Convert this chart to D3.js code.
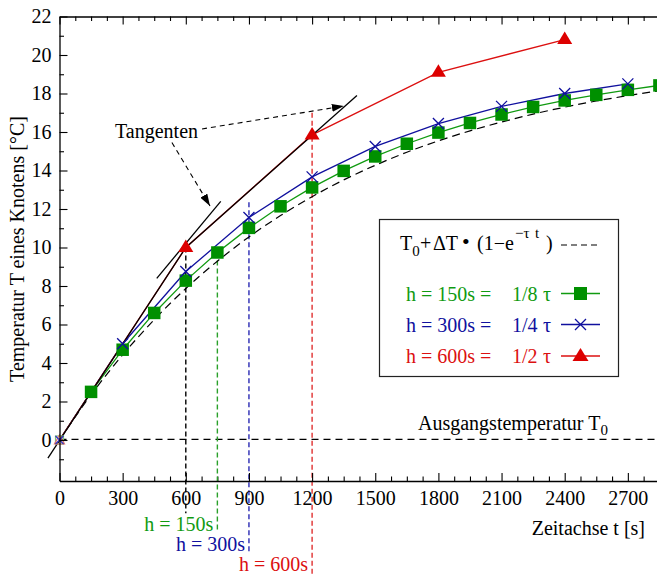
<!DOCTYPE html>
<html><head><meta charset="utf-8">
<script src="https://cdn.jsdelivr.net/npm/d3@7"></script>
<style>
body{margin:0;background:#fff}
svg{display:block}
text{font-family:"Liberation Serif","Times New Roman",serif}
</style>
</head><body>
<svg id="c" width="657" height="574"></svg>
<script>
// ---- data ----
const xTickValues = [0,300,600,900,1200,1500,1800,2100,2400,2700];
const xTickLabels = ["0","300","600","900","1200","1500","1800","2100","2400","2700"];
const yTickValues = [0,2,4,6,8,10,12,14,16,18,20,22];
const yTickLabels = ["0","2","4","6","8","10","12","14","16","18","20","22"];

const exactT = [0,150,300,450,600,750,900,1050,1200,1350,1500,1650,1800,1950,2100,2250,2400,2550,2700,2850];
const exactV = [0,2.35,4.42,6.25,7.87,9.29,10.55,11.66,12.64,13.51,14.27,14.95,15.54,16.06,16.52,16.93,17.29,17.61,17.89,18.14];

const greenT = [0,150,300,450,600,750,900,1050,1200,1350,1500,1650,1800,1950,2100,2250,2400,2550,2700,2850];
const greenV = [0,2.5,4.69,6.6,8.28,9.74,11.02,12.14,13.12,13.98,14.73,15.39,15.97,16.47,16.91,17.3,17.64,17.93,18.19,18.42];

const blueT = [0,300,600,900,1200,1500,1800,2100,2400,2700];
const blueV = [0,5.0,8.75,11.56,13.67,15.25,16.44,17.33,18.0,18.5];

const redT = [0,600,1200,1800,2400];
const redV = [0,10,15.85,19.1,20.8];

const tangentA = [[-55,-0.94],[600,10]];
const tangentB = [[600,10],[1413,17.9]];
const tangentC = [[462,8.4],[766,12.4]];

const seriesNames = ["h = 150s =","h = 300s =","h = 600s ="];
const seriesFrac = ["1/8","1/4","1/2"];
const colGreen = "#109a10", colBlue = "#10109e", colRed = "#dc1010";

// ---- scales ----
const svg = d3.select("#c");
svg.append("rect").attr("width",657).attr("height",574).attr("fill","#fff");
const x = d3.scaleLinear().domain([0,3000]).range([59.5,691]);
const y = d3.scaleLinear().domain([-2.13,22]).range([481,16.5]);

// ---- axes ----
function styleAxis(g){
  g.select(".domain").attr("stroke","#000").attr("stroke-width",1.3);
  g.selectAll(".tick line").attr("stroke","#000").attr("stroke-width",1.1);
  g.selectAll("text").attr("font-size",20).attr("fill","#000").attr("font-family",'"Liberation Serif",serif');
}
const xMinor = d3.range(0,3000,75).filter(v=>v%300!==0);
const yMinor = d3.range(-1,22,2);

svg.append("g").attr("transform","translate(0,481)")
  .call(d3.axisBottom(x).tickValues(xMinor).tickSize(-4.5).tickFormat("")).call(styleAxis)
  .select(".domain").remove();
svg.append("g").attr("transform","translate(0,16.5)")
  .call(d3.axisTop(x).tickValues(xMinor).tickSize(-4.5).tickFormat("")).call(styleAxis)
  .select(".domain").remove();
svg.append("g").attr("transform","translate(0,16.5)")
  .call(d3.axisTop(x).tickValues(xTickValues).tickSize(-8).tickSizeOuter(0).tickFormat("")).call(styleAxis);
svg.append("g").attr("transform","translate(59.5,0)")
  .call(d3.axisLeft(y).tickValues(yMinor).tickSize(-4.5).tickFormat("")).call(styleAxis)
  .select(".domain").remove();

// ---- reference lines ----
svg.append("line").attr("x1",x(0)).attr("x2",657).attr("y1",y(0.03)).attr("y2",y(0.03))
  .attr("stroke","#000").attr("stroke-width",1.1).attr("stroke-dasharray","7,5");

const vlines = [
  {t:600, a:10, b:-3.8, c:"#000"},
  {t:750, a:9.74, b:-4.78, c:"#2aa02a"},
  {t:900, a:12.35, b:-5.82, c:"#2a2ab4"},
  {t:1200, a:17.0, b:-7.0, c:"#e03030"}
];
vlines.forEach(v=>{
  svg.append("line").attr("x1",x(v.t)).attr("x2",x(v.t)).attr("y1",y(v.a)).attr("y2",y(v.b))
    .attr("stroke",v.c).attr("stroke-width",1.4).attr("stroke-dasharray","5,3");
});

// ---- exact curve ----
const line = d3.line().x(d=>x(d[0])).y(d=>y(d[1]));
svg.append("path").datum(exactT.map((t,i)=>[t,exactV[i]]))
  .attr("d", d3.line().x(d=>x(d[0])).y(d=>y(d[1])).curve(d3.curveMonotoneX))
  .attr("fill","none").attr("stroke","#000").attr("stroke-width",1.2).attr("stroke-dasharray","8,5");

// ---- series lines ----
const gData = greenT.map((t,i)=>[t,greenV[i]]);
const bData = blueT.map((t,i)=>[t,blueV[i]]);
const rData = redT.map((t,i)=>[t,redV[i]]);
svg.append("path").datum(gData).attr("d",line).attr("fill","none").attr("stroke",colGreen).attr("stroke-width",1.3);
svg.append("path").datum(bData).attr("d",line).attr("fill","none").attr("stroke",colBlue).attr("stroke-width",1.3);
svg.append("path").datum(rData).attr("d",line).attr("fill","none").attr("stroke",colRed).attr("stroke-width",1.3);

// ---- tangents ----
[tangentA,tangentB,tangentC].forEach(tg=>{
  svg.append("path").datum(tg).attr("d",line).attr("fill","none").attr("stroke","#000").attr("stroke-width",1.3);
});

// ---- markers ----
const sq = 12.5;
svg.append("g").selectAll("rect").data(gData.slice(1)).join("rect")
  .attr("x",d=>x(d[0])-sq/2).attr("y",d=>y(d[1])-sq/2).attr("width",sq).attr("height",sq).attr("fill","#009000");
svg.append("g").selectAll("path").data(bData.slice(1)).join("path")
  .attr("d",d=>{const cx=x(d[0]),cy=y(d[1]),r=5.5;return `M${cx-r},${cy-r}L${cx+r},${cy+r}M${cx-r},${cy+r}L${cx+r},${cy-r}`;})
  .attr("stroke",colBlue).attr("stroke-width",1.3).attr("fill","none");
svg.append("g").selectAll("path").data(rData.slice(1)).join("path")
  .attr("d",d=>{const cx=x(d[0]),cy=y(d[1]);return `M${cx},${cy-8}L${cx+7.5},${cy+4.5}L${cx-7.5},${cy+4.5}Z`;})
  .attr("fill","#dd0000");
// small markers at origin
{
  const cx=x(0), cy=y(0);
  svg.append("rect").attr("x",cx-4).attr("y",cy-4).attr("width",8).attr("height",8).attr("fill","none").attr("stroke","#7ac07a").attr("stroke-width",1.2);
  svg.append("path").attr("d",`M${cx},${cy-5}L${cx+5},${cy+4}L${cx-5},${cy+4}Z`).attr("fill","none").attr("stroke","#e07070").attr("stroke-width",1.2);
  svg.append("path").attr("d",`M${cx-4},${cy-4}L${cx+4},${cy+4}M${cx-4},${cy+4}L${cx+4},${cy-4}`).attr("stroke","#3030c0").attr("stroke-width",1.2);
}

// ---- main axes (on top) ----
svg.append("g").attr("transform","translate(0,481)")
  .call(d3.axisBottom(x).tickValues(xTickValues).tickSize(-8).tickSizeOuter(0).tickPadding(9.8)
    .tickFormat((d,i)=>xTickLabels[i])).call(styleAxis);
svg.append("g").attr("transform","translate(59.5,0)")
  .call(d3.axisLeft(y).tickValues(yTickValues).tickSize(-8).tickSizeOuter(0).tickPadding(8)
    .tickFormat((d,i)=>yTickLabels[i])).call(styleAxis);

// ---- annotations ----
const defs = svg.append("defs");
defs.append("marker").attr("id","ah").attr("viewBox","0 0 12 8").attr("refX",12).attr("refY",4)
  .attr("markerWidth",12).attr("markerHeight",8).attr("markerUnits","userSpaceOnUse").attr("orient","auto")
  .append("path").attr("d","M0,0L12,4L0,8Z").attr("fill","#000");
const arrows = [
  [[677,16.16],[1351,17.35]],
  [[534,15.45],[715,12.16]]
];
arrows.forEach(a=>{
  svg.append("line").attr("x1",x(a[0][0])).attr("y1",y(a[0][1])).attr("x2",x(a[1][0])).attr("y2",y(a[1][1]))
    .attr("stroke","#000").attr("stroke-width",1.1).attr("stroke-dasharray","5,4").attr("marker-end","url(#ah)");
});
svg.append("text").attr("x",115).attr("y",138).attr("font-size",20).text("Tangenten");

const ausg = svg.append("text").attr("x",418).attr("y",430).attr("font-size",20);
ausg.append("tspan").text("Ausgangstemperatur T");
ausg.append("tspan").attr("font-size",15).attr("dy",5).text("0");

svg.append("text").attr("x",645).attr("y",535).attr("text-anchor","end").attr("font-size",20).text("Zeitachse t [s]");
svg.append("text").attr("transform","translate(24,249) rotate(-90)").attr("text-anchor","middle").attr("font-size",20)
  .text("Temperatur T eines Knotens [°C]");

// labels under axis
const hLabels = [
  {t:750, text:"h = 150s", yb:531, c:colGreen},
  {t:900, text:"h = 300s", yb:551, c:colBlue},
  {t:1200, text:"h = 600s", yb:571, c:colRed}
];
hLabels.forEach(h=>{
  svg.append("text").attr("x",x(h.t)-4).attr("y",h.yb).attr("text-anchor","end").attr("font-size",20)
    .attr("fill",h.c).text(h.text);
});

// ---- legend ----
const lg = svg.append("g");
lg.append("rect").attr("x",379.5).attr("y",219.5).attr("width",239).attr("height",157)
  .attr("fill","#fff").attr("stroke","#222").attr("stroke-width",1.2);
const f = lg.append("text").attr("x",400).attr("y",250).attr("font-size",20);
f.append("tspan").attr("x",400).text("T");
f.append("tspan").attr("font-size",15).attr("dy",6).text("0");
f.append("tspan").attr("x",420).attr("dy",-6).text("+");
f.append("tspan").attr("x",433).text("ΔT");
f.append("tspan").attr("x",462).attr("dy",-1).attr("font-size",22).text("•");
f.append("tspan").attr("x",477).attr("dy",1).text("(1−e");
f.append("tspan").attr("x",515).attr("font-size",15).attr("dy",-12).text("−τ");
f.append("tspan").attr("x",535).attr("font-size",15).text("t");
f.append("tspan").attr("x",546).attr("dy",12).text(")");
lg.append("line").attr("x1",561).attr("x2",597).attr("y1",245).attr("y2",245)
  .attr("stroke","#000").attr("stroke-width",1.2).attr("stroke-dasharray","6,4");

const rowY = [293.5,324.5,356];
const rowCol = [colGreen,colBlue,colRed];
rowY.forEach((ry,i)=>{
  lg.append("text").attr("x",406).attr("y",ry+7).attr("font-size",20).attr("fill",rowCol[i]).text(seriesNames[i]);
  lg.append("text").attr("x",512).attr("y",ry+7).attr("font-size",20).attr("fill",rowCol[i]).text(seriesFrac[i]);
  lg.append("text").attr("x",543).attr("y",ry+7).attr("font-size",20).attr("fill",rowCol[i]).text("τ");
  lg.append("line").attr("x1",561).attr("x2",600).attr("y1",ry).attr("y2",ry).attr("stroke",rowCol[i]).attr("stroke-width",1.3);
  const cx=580.5;
  if(i===0) lg.append("rect").attr("x",cx-6.5).attr("y",ry-6.5).attr("width",13).attr("height",13).attr("fill","#009000");
  if(i===1) lg.append("path").attr("d",`M${cx-5.5},${ry-5.5}L${cx+5.5},${ry+5.5}M${cx-5.5},${ry+5.5}L${cx+5.5},${ry-5.5}`).attr("stroke",colBlue).attr("stroke-width",1.3);
  if(i===2) lg.append("path").attr("d",`M${cx},${ry-8}L${cx+8},${ry+5}L${cx-8},${ry+5}Z`).attr("fill","#dd0000");
});
</script>
</body></html>
